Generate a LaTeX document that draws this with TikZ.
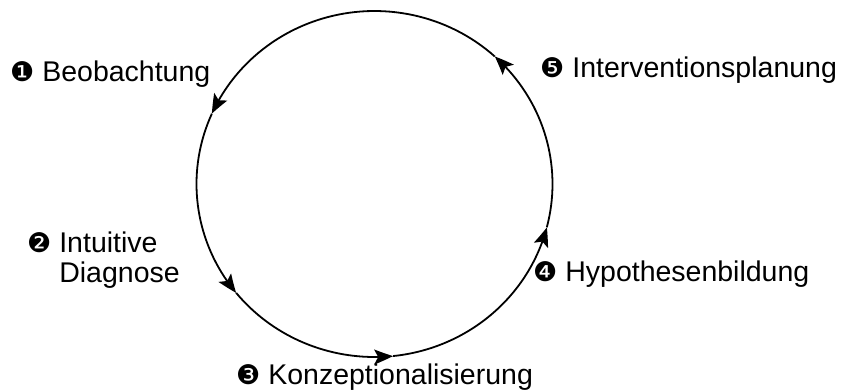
\documentclass[tikz,border=0pt]{standalone}
\usepackage{fontspec}
\setmainfont{Liberation Sans}
\newfontfamily\dingfont{DejaVu Sans}
\usetikzlibrary{arrows.meta, bending}
\newcommand{\nr}[1]{{\dingfont\fontsize{27}{30}\selectfont #1}}

\begin{document}
\begin{tikzpicture}[x=1pt, y=1pt,
    pfeil/.style={line width=1.8pt, -{Stealth[length=19pt, width=15pt, inset=4pt, bend]}},
    schritt/.style={anchor=base west, inner sep=0pt, font=\fontsize{28.5}{30}\selectfont}]
                \useasboundingbox (0,0) rectangle (844,389);
                \coordinate (M) at (374.5,205);
                % Kreislauf, gegen den Uhrzeigersinn
                \foreach \a/\b in {47.5/156, 156/219, 219/276, 276/345.5, 345.5/407.5}
                    \draw[pfeil] (M) ++(\a:178 and 173) arc[start angle=\a, end angle=\b, x radius=178, y radius=173];
                \node[schritt] (beob) at (10,307) {\nr{❶} Beobachtung};
                \node[schritt, align=left] (diag) at (27,107) {\nr{❷} Intuitive\\\hphantom{\nr{❷} }Diagnose};
                \node[schritt] (konz) at (236,5) {\nr{❸} Konzeptionalisierung};
                \node[schritt] (hypo) at (533,108) {\nr{❹} Hypothesenbildung};
                \node[schritt] (plan) at (540,311) {\nr{❺} Interventionsplanung};
            \end{tikzpicture}
\end{document}
